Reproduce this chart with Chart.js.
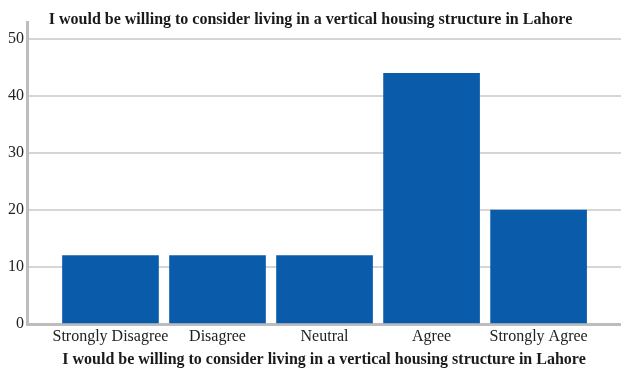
<!DOCTYPE html>
<html lang="en">
<head>
    <meta charset="UTF-8">
    <title>Vertical housing in Lahore</title>
    <script src="https://cdn.jsdelivr.net/npm/chart.js"></script>
    <style>
        body { margin: 0; background: #fff; }
        .chart-box { width: 621px; height: 371px; }
    </style>
</head>
<body>
    <div class="chart-box">
        <canvas id="housingChart"></canvas>
    </div>

    <script>
        // survey answers (percent)
        const categories = ['Strongly Disagree', 'Disagree', 'Neutral', 'Agree', 'Strongly Agree'];
        const responses = [12, 12, 12, 44, 20];
        const yTicks = [0, 10, 20, 30, 40, 50];
        const question = 'I would be willing to consider living in a vertical housing structure in Lahore';

        const serif = "'Liberation Serif', 'Times New Roman', serif";

        const points = categories.map((c, i) => ({ x: i, y: responses[i] }));

        const ctx = document.getElementById('housingChart').getContext('2d');
        new Chart(ctx, {
            type: 'bar',
            data: {
                datasets: [{
                    data: points,
                    backgroundColor: '#0a5caa',
                    borderWidth: 0,
                    barThickness: 96
                }]
            },
            options: {
                responsive: true,
                maintainAspectRatio: false,
                animation: false,
                layout: { padding: 0 },
                plugins: {
                    legend: { display: false },
                    tooltip: { enabled: false },
                    title: {
                        display: true,
                        text: question,
                        color: '#1a1a1a',
                        font: { family: serif, size: 16, weight: 'bold' },
                        padding: { top: 10, bottom: -7.2 }
                    }
                },
                scales: {
                    x: {
                        type: 'linear',
                        offset: false,
                        min: -0.78,
                        max: 4.77,
                        afterBuildTicks: scale => {
                            scale.ticks = categories.map((c, i) => ({ value: i }));
                        },
                        afterFit: scale => { scale.height = 47; },
                        grid: { display: false, drawTicks: false },
                        border: { display: true, color: '#bdbdbd', width: 3 },
                        ticks: {
                            autoSkip: false,
                            maxRotation: 0,
                            padding: 3,
                            color: '#222',
                            font: { family: serif, size: 16 },
                            callback: v => categories[v]
                        },
                        title: {
                            display: true,
                            text: question,
                            color: '#1a1a1a',
                            font: { family: serif, size: 16, weight: 'bold' },
                            padding: { top: 0, bottom: 1.6 }
                        }
                    },
                    y: {
                        min: 0,
                        max: 53,
                        afterBuildTicks: scale => {
                            scale.ticks = yTicks.map(v => ({ value: v }));
                        },
                        afterFit: scale => { scale.width = 27; },
                        grid: { color: '#d6d6d6', lineWidth: 2, drawTicks: false },
                        border: { color: '#bdbdbd', width: 3 },
                        ticks: {
                            padding: 3,
                            color: '#222',
                            font: { family: serif, size: 16 }
                        }
                    }
                }
            }
        });
    </script>
</body>
</html>
